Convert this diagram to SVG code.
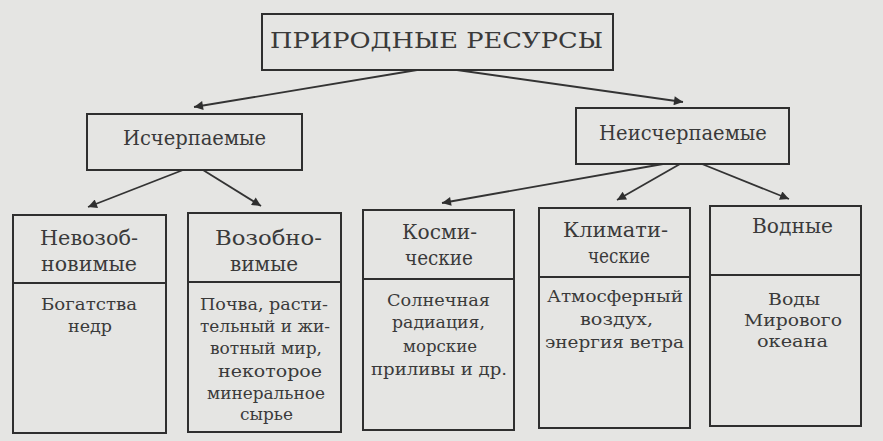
<svg xmlns="http://www.w3.org/2000/svg" width="883" height="441" viewBox="0 0 883 441">
<style>
.box{fill:none;stroke:#2f2f2f;stroke-width:2}
.ln{fill:none;stroke:#333;stroke-width:1.8}
text{font-family:"DejaVu Serif","Liberation Serif",serif;fill:#3a3a3a;text-anchor:middle}
.t{font-size:22.5px}
.m{font-size:19.5px}
.h{font-size:20px}
.b{font-size:17.5px}
</style>
<defs>
<marker id="ah" viewBox="0 0 10 10" refX="10" refY="5" markerWidth="12" markerHeight="9" markerUnits="userSpaceOnUse" orient="auto">
<path d="M0,0 L10,5 L0,10 z" fill="#2f2f2f"/>
</marker>
</defs>
<rect width="883" height="441" fill="#e5e5e3"/>
<g id="connectors">
<line class="ln" x1="417" y1="70" x2="194" y2="107" marker-end="url(#ah)"/>
<line class="ln" x1="457" y1="70" x2="683" y2="102" marker-end="url(#ah)"/>
<line class="ln" x1="183" y1="170" x2="88" y2="207" marker-end="url(#ah)"/>
<line class="ln" x1="203" y1="170" x2="261" y2="206" marker-end="url(#ah)"/>
<line class="ln" x1="663" y1="164" x2="442" y2="203" marker-end="url(#ah)"/>
<line class="ln" x1="680" y1="164" x2="617" y2="200" marker-end="url(#ah)"/>
<line class="ln" x1="702" y1="164" x2="789" y2="199" marker-end="url(#ah)"/>
</g>
<g id="root">
<rect class="box" x="262" y="14" width="351" height="56"/>
<text class="t" x="436.5" y="48" textLength="333" lengthAdjust="spacingAndGlyphs">ПРИРОДНЫЕ  РЕСУРСЫ</text>
</g>
<g id="exhaustible">
<rect class="box" x="87" y="114" width="215" height="56"/>
<text class="m" x="194.5" y="145">Исчерпаемые</text>
</g>
<g id="inexhaustible">
<rect class="box" x="576" y="108" width="213" height="56"/>
<text class="m" x="683" y="140">Неисчерпаемые</text>
</g>
<g id="nonrenewable">
<rect class="box" x="13" y="215" width="153" height="218"/>
<line class="box" x1="13" y1="283" x2="166" y2="283"/>
<text class="h" x="89" y="245" textLength="98" lengthAdjust="spacingAndGlyphs">Невозоб-</text>
<text class="h" x="89" y="271" textLength="96" lengthAdjust="spacingAndGlyphs">новимые</text>
<text class="b" x="89" y="310" textLength="96" lengthAdjust="spacingAndGlyphs">Богатства</text>
<text class="b" x="90" y="332" textLength="44" lengthAdjust="spacingAndGlyphs">недр</text>
</g>
<g id="renewable">
<rect class="box" x="188" y="213" width="153" height="219"/>
<line class="box" x1="188" y1="282" x2="341" y2="282"/>
<text class="h" x="268.5" y="245" textLength="107" lengthAdjust="spacingAndGlyphs">Возобно-</text>
<text class="h" x="264" y="271" textLength="68" lengthAdjust="spacingAndGlyphs">вимые</text>
<text class="b" x="264" y="310" textLength="128" lengthAdjust="spacingAndGlyphs">Почва, расти-</text>
<text class="b" x="265" y="332" textLength="130" lengthAdjust="spacingAndGlyphs">тельный и жи-</text>
<text class="b" x="266" y="354" textLength="112" lengthAdjust="spacingAndGlyphs">вотный мир,</text>
<text class="b" x="270" y="377" textLength="104" lengthAdjust="spacingAndGlyphs">некоторое</text>
<text class="b" x="266" y="399" textLength="118" lengthAdjust="spacingAndGlyphs">минеральное</text>
<text class="b" x="266.5" y="420" textLength="53" lengthAdjust="spacingAndGlyphs">сырье</text>
</g>
<g id="cosmic">
<rect class="box" x="363" y="210" width="151" height="220"/>
<line class="box" x1="363" y1="279" x2="514" y2="279"/>
<text class="h" x="439.5" y="239" textLength="75" lengthAdjust="spacingAndGlyphs">Косми-</text>
<text class="h" x="439" y="265" textLength="68" lengthAdjust="spacingAndGlyphs">ческие</text>
<text class="b" x="438.5" y="306" textLength="103" lengthAdjust="spacingAndGlyphs">Солнечная</text>
<text class="b" x="438.5" y="328" textLength="93" lengthAdjust="spacingAndGlyphs">радиация,</text>
<text class="b" x="440" y="352" textLength="74" lengthAdjust="spacingAndGlyphs">морские</text>
<text class="b" x="439" y="375" textLength="136" lengthAdjust="spacingAndGlyphs">приливы и др.</text>
</g>
<g id="climatic">
<rect class="box" x="539" y="208" width="151" height="220"/>
<line class="box" x1="539" y1="277" x2="690" y2="277"/>
<text class="h" x="615.5" y="237" textLength="105" lengthAdjust="spacingAndGlyphs">Климати-</text>
<text class="h" x="619" y="263" textLength="62" lengthAdjust="spacingAndGlyphs">ческие</text>
<text class="b" x="615" y="302" textLength="136" lengthAdjust="spacingAndGlyphs">Атмосферный</text>
<text class="b" x="616.5" y="325" textLength="73" lengthAdjust="spacingAndGlyphs">воздух,</text>
<text class="b" x="614.5" y="348" textLength="139" lengthAdjust="spacingAndGlyphs">энергия ветра</text>
</g>
<g id="water">
<rect class="box" x="710" y="206" width="151" height="220"/>
<line class="box" x1="710" y1="275" x2="861" y2="275"/>
<text class="h" x="792.5" y="233" textLength="81" lengthAdjust="spacingAndGlyphs">Водные</text>
<text class="b" x="794" y="305" textLength="52" lengthAdjust="spacingAndGlyphs">Воды</text>
<text class="b" x="793" y="326" textLength="98" lengthAdjust="spacingAndGlyphs">Мирового</text>
<text class="b" x="792.5" y="347" textLength="71" lengthAdjust="spacingAndGlyphs">океана</text>
</g>
</svg>
